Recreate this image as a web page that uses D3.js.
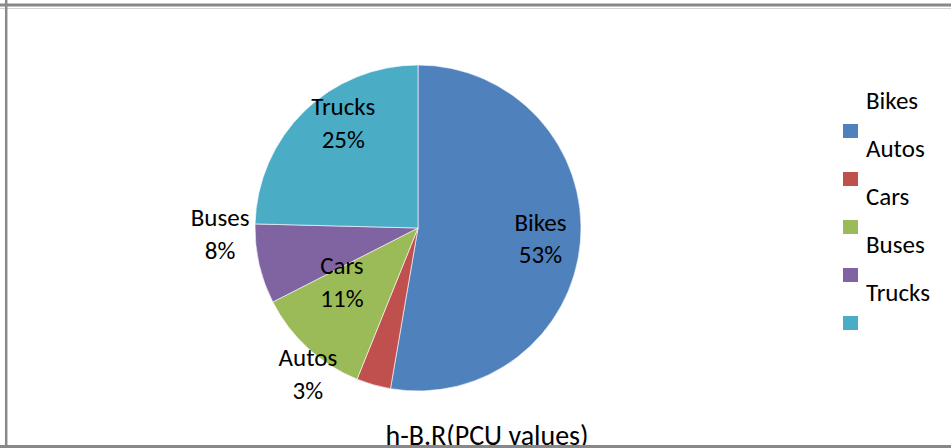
<!DOCTYPE html>
<html>
<head>
<meta charset="utf-8">
<script src="https://cdn.jsdelivr.net/npm/d3@7"></script>
<style>
  html, body { margin: 0; padding: 0; background: #fff; }
  svg { display: block; }
  text { font-family: Carlito, Lato, "Open Sans", sans-serif; fill: #000; }
</style>
</head>
<body>
<svg id="chart" width="951" height="448"></svg>
<script>
// ---- data ----
const categories = ["Bikes", "Autos", "Cars", "Buses", "Trucks"];
const values = [52.7, 3.4, 11.4, 7.9, 24.6];
const title = "h-B.R(PCU values)";

// ---- styles / layout ----
const colors = ["#4F81BD", "#C0504D", "#9BBB59", "#8064A2", "#4BACC6"];
// label placement (polar: degrees clockwise from 12 o'clock, fraction of radius)
const labelAngle = [94.9, 217.1, 234.4, 268.3, 324.5];
const labelRadius = [0.754, 1.12, 0.574, 1.215, 0.79];

const W = 951, H = 448;
const cx = 418, cy = 228, R = 163;
const fontSize = 25;

const svg = d3.select("#chart");

// frame
const frame = svg.append("g");
frame.append("line").attr("x1", 0).attr("x2", W).attr("y1", 5).attr("y2", 5)
  .attr("stroke", "#888").attr("stroke-width", 3);
frame.append("line").attr("x1", 0).attr("x2", W).attr("y1", 8.5).attr("y2", 8.5)
  .attr("stroke", "#d4d4d4").attr("stroke-width", 1);
frame.append("line").attr("x1", 6.2).attr("x2", 6.2).attr("y1", 0).attr("y2", H)
  .attr("stroke", "#8a8a8a").attr("stroke-width", 2.5);

const data = categories.map((c, i) => ({ cat: c, value: values[i], color: colors[i] }));
const total = d3.sum(values);

const pie = d3.pie().value(d => d.value).sort(null);
const arcs = pie(data);
const arc = d3.arc().innerRadius(0).outerRadius(R);

const g = svg.append("g").attr("transform", `translate(${cx},${cy})`);
g.selectAll("path").data(arcs).enter().append("path")
  .attr("d", arc)
  .attr("fill", d => d.data.color)
  .attr("stroke", "#fff")
  .attr("stroke-opacity", 0.6)
  .attr("stroke-width", 1);

// labels
const lineGap = 33;
arcs.forEach((d, i) => {
  const a = labelAngle[i] * Math.PI / 180;
  const r = labelRadius[i] * R;
  const x = r * Math.sin(a), y = -r * Math.cos(a);
  const t = g.append("text")
    .attr("text-anchor", "middle")
    .attr("font-size", fontSize)
    .attr("x", x).attr("y", y);
  t.append("tspan").attr("x", x).attr("y", y - lineGap / 2 + 8.5).text(d.data.cat);
  t.append("tspan").attr("x", x).attr("y", y + lineGap / 2 + 8.5)
    .text(Math.round(d.data.value / total * 100) + "%");
});

// legend
const legend = svg.append("g").attr("transform", "translate(843,124)");
const step = 48;
data.forEach((d, i) => {
  legend.append("rect").attr("x", 0).attr("y", i * step)
    .attr("width", 15).attr("height", 14).attr("fill", d.color);
  legend.append("text").attr("x", 23).attr("y", i * step - 15)
    .attr("font-size", fontSize).text(d.cat);
});

// title
svg.append("text").attr("x", 487).attr("y", 445)
  .attr("text-anchor", "middle").attr("font-size", 28).text(title);

// bottom frame line (drawn over title)
svg.append("line").attr("x1", 0).attr("x2", W).attr("y1", 446.5).attr("y2", 446.5)
  .attr("stroke", "#888").attr("stroke-width", 3);
</script>
</body>
</html>
